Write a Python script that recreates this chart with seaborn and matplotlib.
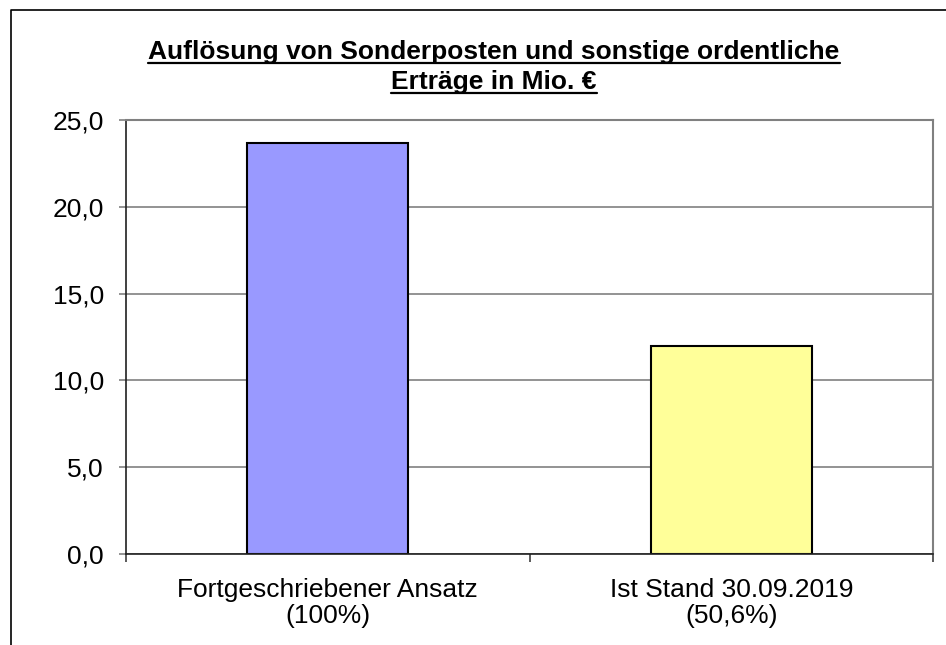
import matplotlib

matplotlib.use("Agg")
import matplotlib.pyplot as plt
import matplotlib.ticker as mticker
import pandas as pd
import seaborn as sns
from matplotlib.lines import Line2D

sns.set_theme(style="white")
plt.rcParams["font.family"] = ["Liberation Sans", "DejaVu Sans"]
plt.rcParams["text.color"] = "black"
plt.rcParams["xtick.color"] = "black"
plt.rcParams["ytick.color"] = "black"

# data
categories = ["Fortgeschriebener Ansatz\n(100%)", "Ist Stand 30.09.2019\n(50,6%)"]
values = [23.7, 12.0]
bar_colors = ["#9999FF", "#FFFF99"]
title_lines = ["Auflösung von Sonderposten und sonstige ordentliche", "Erträge in Mio. €"]
y_ticks = [0, 5, 10, 15, 20, 25]

W, H = 946, 645
FS = 19
fig = plt.figure(figsize=(W / 100, H / 100), dpi=100)
ax = fig.add_axes([126 / W, 1 - 554 / H, (933 - 126) / W, (554 - 120) / H])

df = pd.DataFrame({"cat": categories, "val": values})
sns.barplot(
    data=df, x="cat", y="val", hue="cat", palette=bar_colors, legend=False,
    width=0.4, edgecolor="black", linewidth=1.5, saturation=1, ax=ax,
)

ax.set_xlim(-0.5, 1.5)
ax.set_ylim(0, 25)
ax.set_yticks(y_ticks)
ax.yaxis.set_major_formatter(mticker.FuncFormatter(lambda v, _: f"{v:.1f}".replace(".", ",")))
ax.set_xlabel("")
ax.set_ylabel("")
ax.grid(axis="y", color="#808080", linewidth=1.2)
ax.set_axisbelow(True)

for side in ("top", "right"):
    ax.spines[side].set_color("#808080")
    ax.spines[side].set_linewidth(1.5)
ax.spines["left"].set_color("#202020")
ax.spines["bottom"].set_color("#202020")
ax.spines["left"].set_linewidth(1.2)
ax.spines["bottom"].set_linewidth(1.2)

# x ticks sit on category boundaries, labels at centers
ax.set_xticks([-0.5, 0.5, 1.5])
ax.set_xticklabels([])
ax.set_xticks([0, 1], minor=True)
ax.set_xticklabels(categories, minor=True)
ax.tick_params(axis="x", which="major", direction="out", length=6, width=1.2,
               color="#404040", bottom=True)
ax.tick_params(axis="x", which="minor", length=0, pad=17, labelsize=FS, labelcolor="black")
ax.tick_params(axis="y", direction="out", length=5, width=1.2, color="#808080",
               left=True, pad=11, labelsize=FS, labelcolor="black")
for t in ax.get_xticklabels(minor=True):
    t.set_linespacing(1.12)

# title, two underlined lines
title_y = [1 - 59 / H, 1 - 88.5 / H]
texts = [fig.text(494 / W, y, s, ha="center", va="baseline", fontsize=FS,
                  fontweight="bold", color="black") for s, y in zip(title_lines, title_y)]
fig.canvas.draw()
renderer = fig.canvas.get_renderer()
for t in texts:
    bb = t.get_window_extent(renderer).transformed(fig.transFigure.inverted())
    x0, y0, x1 = bb.x0, t.get_position()[1] - 4 / H, bb.x1
    fig.add_artist(Line2D([x0, x1], [y0, y0], color="black", linewidth=1.6,
                          transform=fig.transFigure))

# outer frame (only left and top visible in the crop)
fig.add_artist(Line2D([10.5 / W, 10.5 / W, 1], [0, 1 - 9.5 / H, 1 - 9.5 / H],
                      color="black", linewidth=1.2, transform=fig.transFigure))

fig.savefig("out.png", dpi=100)
